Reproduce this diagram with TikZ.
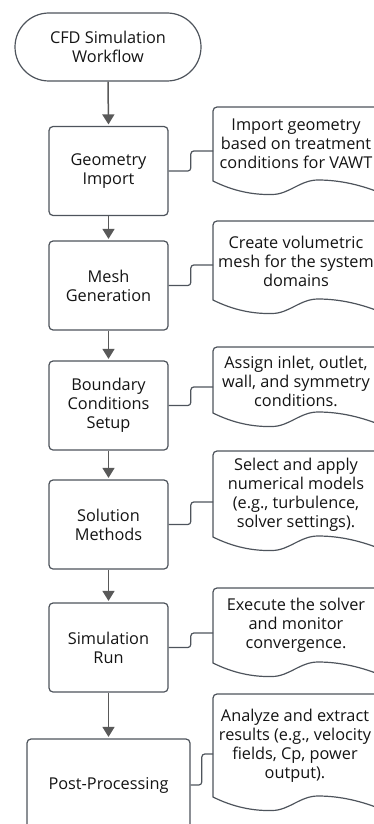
\documentclass[tikz,border=0pt]{standalone}
\usepackage{fontspec}
\setmainfont{Open Sans}
\usetikzlibrary{arrows.meta,calc}
\definecolor{edge}{HTML}{4E545C}
\definecolor{flow}{HTML}{595959}
\definecolor{ink}{HTML}{141414}
\begin{document}
\begin{tikzpicture}[x=1pt,y=-1pt,
  every node/.style={font=\fontsize{16.3}{19}\selectfont, text=ink},
  stepbox/.style={draw=edge, line width=1.2pt, rounded corners=4pt, fill=white,
    align=center, minimum width=119pt, minimum height=89pt, inner sep=0pt},
  term/.style={draw=edge, line width=1.2pt, rounded corners=34pt, fill=white,
    minimum width=186pt, minimum height=68pt, align=center, inner sep=0pt},
  note/.style={align=center, inner sep=0pt},
  flowarrow/.style={draw=flow, line width=1.5pt,
    -{Triangle[length=10pt,width=12pt]}, shorten >=1.5pt},
  link/.style={draw=edge, line width=1.2pt, rounded corners=3pt},
  docshape/.style={draw=edge, line width=1.2pt, fill=white},
  pics/wavedoc/.style={code={
    \draw[docshape] (0,#1) [rounded corners=4pt] -- (0,0) -- (175,0) [sharp corners]
      -- (175,#1+15) .. controls (150,#1+4) and (127,#1-1) .. (105,#1-1)
      .. controls (87,#1-1) and (76,#1+13.5) .. (59,#1+13.5)
      .. controls (40,#1+14) and (20,#1+10) .. (0,#1) -- cycle;
  }}
]
\useasboundingbox (0,0) rectangle (374,824);
\clip (0,0) rectangle (374,824);

% main process column
\node[term] (start) at (108,47) {CFD Simulation\\Workflow};
\node[stepbox] (b1) at (108.5,171) {Geometry\\Import};
\node[stepbox] (b2) at (108.5,285.5) {Mesh\\Generation};
\node[stepbox] (b3) at (108.5,405.5) {Boundary\\Conditions\\Setup};
\node[stepbox] (b4) at (108.5,524.5) {Solution\\Methods};
\node[stepbox] (b5) at (108.5,647.5) {Simulation\\Run};
\node[stepbox, minimum width=163pt, minimum height=92pt] (b6) at (108.5,785) {Post-Processing};

% annotation documents
\pic at (213,107) {wavedoc=74};
\pic at (213,221) {wavedoc=79};
\pic at (213,347) {wavedoc=66};
\pic at (213,451) {wavedoc=86};
\pic at (213,588) {wavedoc=75};
\pic at (213,694) {wavedoc=103};

\node[note] (n1) at (296,144) {Import geometry\\based on treatment\\conditions for VAWT};
\node[note] (n2) at (296,261) {Create volumetric\\mesh for the system\\domains};
\node[note] (n3) at (296,381) {Assign inlet, outlet,\\wall, and symmetry\\conditions.};
\node[note] (n4) at (296,495) {Select and apply\\numerical models\\(e.g., turbulence,\\solver settings).};
\node[note] (n5) at (296,625) {Execute the solver\\and monitor\\convergence.};
\node[note] (n6) at (295,745.5) {Analyze and extract\\results (e.g., velocity\\fields, Cp, power\\output).};

% attachment points on the documents' left edges
\coordinate (d1) at (213,151);
\coordinate (d2) at (213,265);
\coordinate (d3) at (213,387);
\coordinate (d4) at (213,502);
\coordinate (d5) at (213,633);
\coordinate (d6) at (213,754);

% flow arrows
\draw[flowarrow] (start.south) -- (b1.north);
\draw[flowarrow] (b1.south) -- (b2.north);
\draw[flowarrow] (b2.south) -- (b3.north);
\draw[flowarrow] (b3.south) -- (b4.north);
\draw[flowarrow] (b4.south) -- (b5.north);
\draw[flowarrow] (b5.south) -- (b6.north);

% elbow links to the annotations
\foreach \i in {1,...,6}{
  \draw[link] (b\i.east) -| ($(b\i.east)!.5!(d\i)$) |- (d\i);
}
\end{tikzpicture}
\end{document}
